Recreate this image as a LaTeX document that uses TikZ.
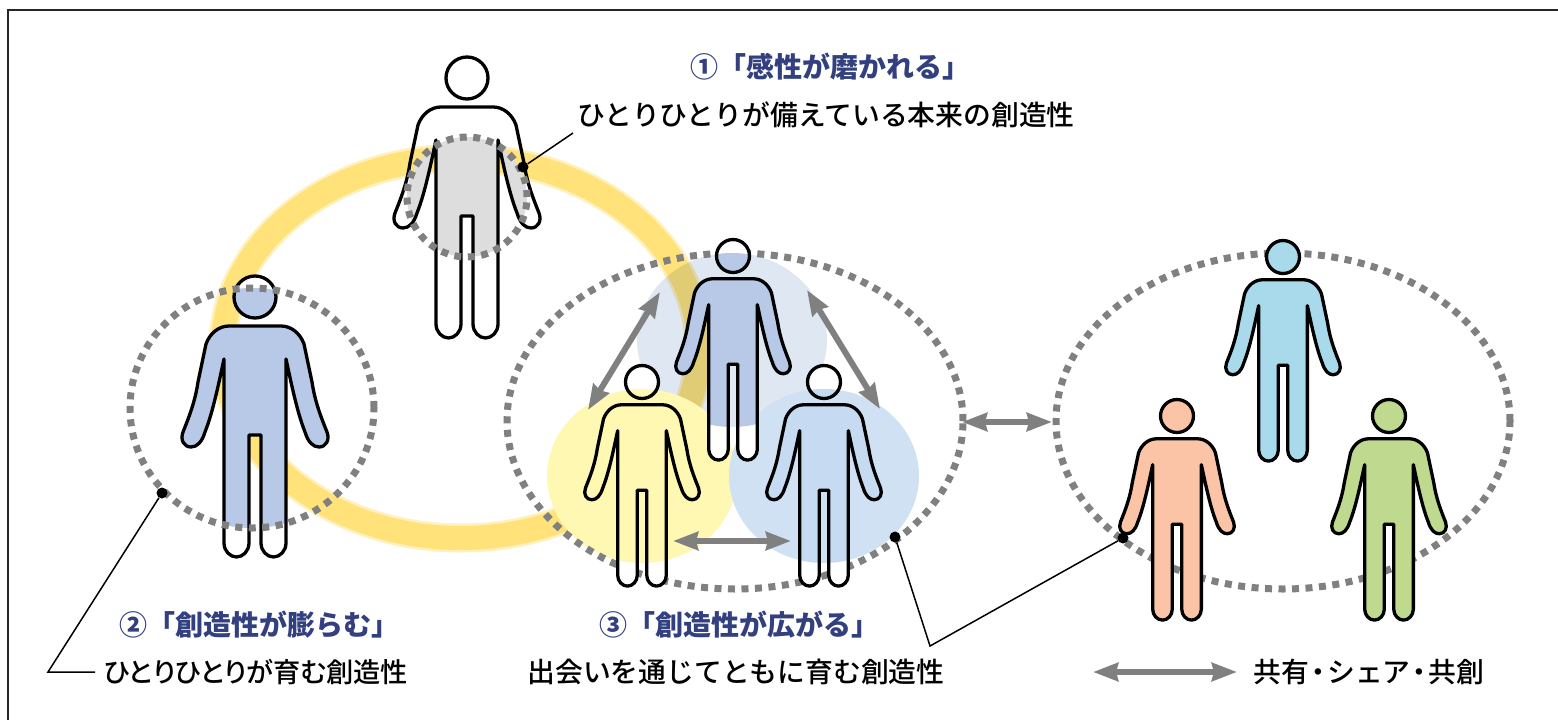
\documentclass[tikz,border=0pt]{standalone}
\usepackage{fontspec}
\setmainfont{Noto Sans CJK JP}
\newfontfamily\mediumfont{Noto Sans CJK JP Medium}
\usetikzlibrary{arrows.meta}
\definecolor{titleblue}{HTML}{33407F}
\definecolor{ringgray}{HTML}{808080}
\definecolor{ringyellow}{HTML}{FFE27A}
\definecolor{softblue}{HTML}{DFE7F3}
\definecolor{softyellow}{HTML}{FFF8B3}
\definecolor{softsky}{HTML}{D0E1F4}
\definecolor{bodyblue}{HTML}{B7C9E6}
\definecolor{bodysky}{HTML}{C6DAF2}
\definecolor{bodycyan}{HTML}{A9DAEC}
\definecolor{bodysalmon}{HTML}{FBC4A7}
\definecolor{bodygreen}{HTML}{BFD98F}
\definecolor{bodygray}{HTML}{DDDDDD}
\tikzset{
  dotring/.style={draw=ringgray,line width=7pt,dash pattern=on 7pt off 6.5pt},
  outline/.style={draw=black,line width=3.3pt,line join=round},
  sharearrow/.style={<->,>={Stealth[length=25pt,width=18pt,inset=2pt]},draw=ringgray,line width=6pt},
  leader/.style={draw=black,line width=1.5pt},
  leaddot/.style={circle,fill=black,inner sep=0pt,minimum size=11pt},
  titletext/.style={text=titleblue,font=\fontsize{28}{30}\selectfont\bfseries},
  subtext/.style={text=black,font=\fontsize{27.8}{30}\mediumfont\selectfont}
}
\newcommand{\personpath}{(-6,138) -- (6,138) -- (6,246)
  .. controls (6,254) and (12,260) .. (18.5,260) .. controls (25,260) and (31,254) .. (31,246) -- (31,62)
  .. controls (36,85) and (42,115) .. (50,135) .. controls (53,145) and (58,150) .. (64,150)
  .. controls (71,150) and (75,143) .. (72,135) .. controls (66,120) and (60,105) .. (57,85) -- (49,47)
  .. controls (45,36) and (36,29) .. (26,29) -- (-26,29)
  .. controls (-36,29) and (-45,36) .. (-49,47) -- (-57,85) .. controls (-60,105) and (-66,120) .. (-72,135)
  .. controls (-75,143) and (-71,150) .. (-64,150) .. controls (-58,150) and (-53,145) .. (-50,135)
  .. controls (-42,115) and (-36,85) .. (-31,62) -- (-31,246)
  .. controls (-31,254) and (-25,260) .. (-18.5,260) .. controls (-12,260) and (-6,254) .. (-6,246) -- cycle
  (0,0) circle [radius=21pt]}
% x, y, scale, base colour, colour, clip
\newcommand{\drawperson}[6]{%
  \path[fill=#4,shift={(#1,#2)},scale=#3] \personpath;
  \begin{scope}
    \clip #6;
    \fill[#5,shift={(#1,#2)},scale=#3] \personpath;
  \end{scope}
  \draw[outline,shift={(#1,#2)},scale=#3] \personpath;
}
\newcommand{\wholepage}{(0,0) rectangle (1558,720)}
\newcommand{\topshape}{(732,340) ellipse [x radius=95pt,y radius=87pt]}
\newcommand{\leftshape}{(642,476) ellipse [x radius=95pt,y radius=87pt]}
\newcommand{\rightshape}{(824,476) ellipse [x radius=95pt,y radius=87pt]}
\newcommand{\soloshape}{(252,408) ellipse [x radius=122pt,y radius=120pt]}
\newcommand{\firstshape}{(467,197) circle [radius=60pt]}
\begin{document}
\begin{tikzpicture}[x=1pt,y=-1pt]
  \useasboundingbox \wholepage;
  \draw [line width=1.4pt,black!85] (8,720)--(8,10)--(1558,10);
  % ring
  \draw [ringyellow,opacity=.5,line width=29pt] (461,348) ellipse [x radius=238pt,y radius=190pt];
  \draw [ringyellow,line width=24pt] (461,348) ellipse [x radius=238pt,y radius=190pt];
  % middle group
  \fill [softblue,blend mode=multiply] \topshape;
  \fill [softyellow] \leftshape;
  \fill [softsky] \rightshape;
  \draw [dotring] (735,421) ellipse [x radius=228pt,y radius=168pt];
  \draw [dotring] (1283,421) ellipse [x radius=227pt,y radius=168pt];
  \drawperson{733}{256}{.785}{white}{bodyblue}{\topshape}
  \drawperson{642}{382}{.785}{white}{softyellow}{\leftshape}
  \drawperson{824}{382}{.785}{white}{bodysky}{\rightshape}
  % right group
  \drawperson{1283}{257}{.785}{none}{bodycyan}{\wholepage}
  \drawperson{1177}{416}{.785}{none}{bodysalmon}{\wholepage}
  \drawperson{1389}{416}{.785}{none}{bodygreen}{\wholepage}
  % single persons
  \drawperson{467}{78}{1}{none}{bodygray}{\firstshape}
  \drawperson{255}{297}{1}{white}{bodyblue}{\soloshape}
  \draw [dotring] \firstshape;
  \draw [dotring] \soloshape;
  % arrows
  \coordinate (tla) at (660,292);
  \coordinate (tlb) at (588,410);
  \coordinate (tra) at (807,290);
  \coordinate (trb) at (880,409);
  \coordinate (bma) at (673,541);
  \coordinate (bmb) at (791,541);
  \coordinate (gpa) at (962,422);
  \coordinate (gpb) at (1052,422);
  \coordinate (lga) at (1093,672);
  \coordinate (lgb) at (1237,672);
  \draw [sharearrow] (tla)--(tlb);
  \draw [sharearrow] (tra)--(trb);
  \draw [sharearrow] (bma)--(bmb);
  \draw [sharearrow] (gpa)--(gpb);
  \draw [sharearrow] (lga)--(lgb);
  % leaders
  \node [leaddot] (dotfirst) at (523,167) {};
  \node [leaddot] (dotsolo) at (162,493) {};
  \node [leaddot] (dotmid) at (895,537) {};
  \node [leaddot] (dotright) at (1123,538) {};
  \coordinate (endfirst) at (573,133);
  \coordinate (bendsolo) at (48,672);
  \coordinate (endsolo) at (95,672);
  \coordinate (bendmid) at (930,646);
  \draw [leader] (dotfirst)--(endfirst);
  \draw [leader] (dotsolo)--(bendsolo)--(endsolo);
  \draw [leader] (dotmid)--(bendmid)--(dotright);
  % labels
  \node [titletext] (titleone) at (830,67) {①「感性が磨かれる」};
  \node [subtext] (subone) at (826,115) {ひとりひとりが備えている本来の創造性};
  \node [titletext] (titletwo) at (259,625) {②「創造性が膨らむ」};
  \node [subtext] (subtwo) at (256,672) {\fontsize{27.2}{30}\selectfont\addfontfeature{RawFeature=+palt}ひとりひとりが育む創造性};
  \node [titletext] (titlethree) at (739,625) {③「創造性が広がる」};
  \node [subtext] (subthree) at (736,672) {出会いを通じてともに育む創造性};
  \node [subtext] (legend) at (1369,672) {共有\kern-4.8pt・\kern-4.8pt シェア\kern-4.8pt・\kern-4.8pt 共創};
\end{tikzpicture}
\end{document}
